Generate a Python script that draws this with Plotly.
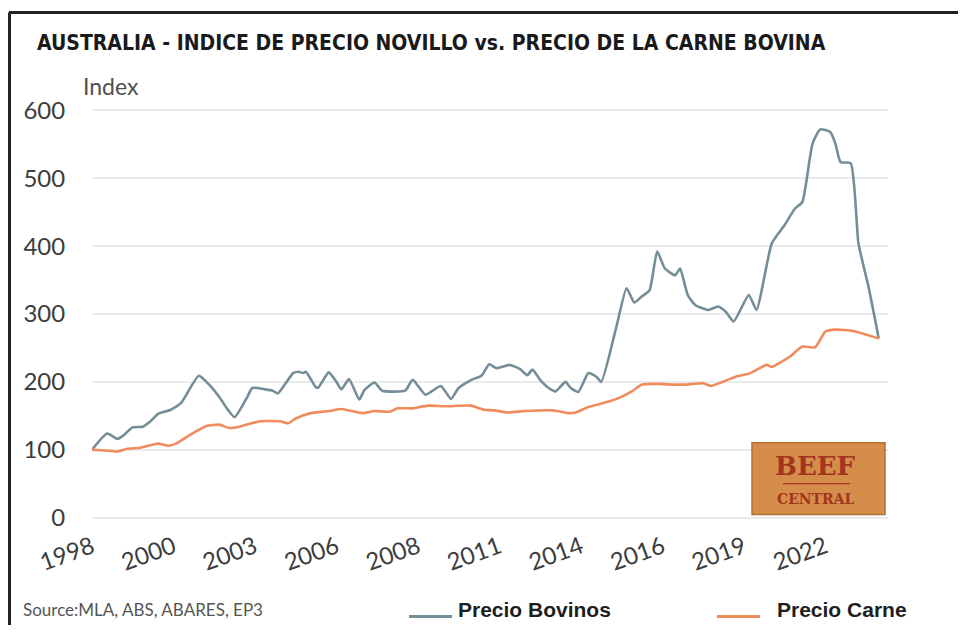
import plotly.graph_objects as go

# ---------------- data ----------------
bovinos_fechas = [
    "1998-01", "1998-07", "1998-11", "1999-01", "1999-05", "1999-09", "1999-12",
    "2000-03", "2000-08", "2000-12", "2001-07", "2001-11", "2002-03", "2002-06",
    "2002-09", "2003-02", "2003-04", "2003-09", "2003-12", "2004-02", "2004-08",
    "2004-10", "2004-12", "2005-01", "2005-05", "2005-06", "2005-10", "2006-01",
    "2006-03", "2006-06", "2006-10", "2006-12", "2007-04", "2007-07", "2008-04",
    "2008-07", "2008-12", "2009-06", "2009-10", "2010-01", "2010-06", "2010-10",
    "2011-01", "2011-04", "2011-09", "2012-01", "2012-04", "2012-06", "2012-09",
    "2012-12", "2013-03", "2013-07", "2013-09", "2013-12", "2014-04", "2014-07",
    "2014-09", "2015-03", "2015-07", "2015-10", "2016-01", "2016-04", "2016-07",
    "2016-10", "2017-02", "2017-04", "2017-07", "2017-10", "2018-03", "2018-07",
    "2018-10", "2019-01", "2019-07", "2019-10", "2020-04", "2020-09", "2021-01",
    "2021-04", "2021-08", "2021-11", "2022-03", "2022-05", "2022-07", "2022-11",
    "2023-02", "2023-06", "2023-10",
]
bovinos_valores = [
    100, 124, 116, 120, 133, 134, 142,
    153, 159, 169, 209, 196, 178, 161,
    148, 178, 191, 189, 187, 183, 213,
    215, 213, 215, 192, 192, 214, 200,
    189, 204, 174, 188, 199, 187, 187,
    203, 181, 194, 175, 191, 203, 209,
    226, 220, 225, 219, 210, 218, 203,
    192, 186, 200, 191, 185, 213, 208,
    200, 281, 338, 317, 326, 335, 392,
    367, 357, 367, 328, 313, 306, 311,
    303, 289, 328, 306, 404, 431, 455,
    465, 551, 572, 568, 551, 524, 522,
    404, 340, 264,
]

carne_fechas = [
    "1998-01", "1998-06", "1998-11", "1999-03", "1999-08", "2000-03", "2000-07",
    "2000-10", "2001-04", "2001-10", "2002-03", "2002-07", "2002-11", "2003-07",
    "2004-03", "2004-06", "2004-09", "2005-03", "2005-10", "2006-03", "2006-11",
    "2007-04", "2007-10", "2008-01", "2008-07", "2009-01", "2009-08", "2010-06",
    "2010-09", "2010-11", "2011-03", "2011-08", "2012-03", "2013-02", "2013-08",
    "2013-11", "2014-04", "2014-12", "2015-05", "2015-09", "2016-01", "2016-07",
    "2017-02", "2017-06", "2018-01", "2018-04", "2018-08", "2019-02", "2019-07",
    "2020-02", "2020-04", "2020-11", "2021-04", "2021-09", "2022-01", "2022-05",
    "2022-12", "2023-10",
]
carne_valores = [
    100, 99, 97.5, 101.5, 103, 109, 106,
    109, 123, 135, 137, 132, 134, 142,
    142, 139, 146, 154, 157, 160, 154,
    157, 156, 161, 161, 165, 164, 165,
    161, 159, 158, 155, 157, 158, 154,
    155, 163, 171, 178, 186, 196, 197,
    196, 196, 198, 194, 199, 208, 212,
    225, 222, 237, 252, 251, 274, 277,
    275, 264,
]

tick_fechas = ["1998-01-01", "2000-09-01", "2003-05-01", "2006-01-01", "2008-09-01",
               "2011-05-01", "2014-01-01", "2016-09-01", "2019-05-01", "2022-01-01"]
tick_textos = ["1998", "2000", "2003", "2006", "2008", "2011", "2014", "2016", "2019", "2022"]

y_ticks = [0, 100, 200, 300, 400, 500, 600]

series_nombres = ["Precio Bovinos", "Precio Carne"]
titulo = "AUSTRALIA - INDICE DE PRECIO NOVILLO vs. PRECIO DE LA CARNE BOVINA"
fuente = "Source:MLA, ABS, ABARES, EP3"

# ---------------- geometry helpers (page pixel coords -> paper) ----------------
OFF = 8                      # default body margin of the html page
W, H = 966 - 2 * OFF, 633 - 2 * OFF
L, R = 92 - OFF, 888 - OFF   # plot area in figure pixels
T, B = 108.6 - OFF, 519.4 - OFF


def px(x):
    return (x - OFF - L) / (R - L)


def py(y):
    return (B - (y - OFF)) / (B - T)


AZUL = "#748d97"
NARANJA = "#ef8b5c"
colores = [AZUL, NARANJA]

fig = go.Figure()
fig.add_trace(go.Scatter(
    x=bovinos_fechas, y=bovinos_valores, mode="lines", name=series_nombres[0],
    line=dict(color=AZUL, width=2.6, shape="spline", smoothing=0.5),
))
fig.add_trace(go.Scatter(
    x=carne_fechas, y=carne_valores, mode="lines", name=series_nombres[1],
    line=dict(color=NARANJA, width=2.6, shape="spline", smoothing=0.5),
))

fig.update_layout(
    width=W, height=H,
    margin=dict(l=L, r=W - R, t=T, b=H - B, pad=0, autoexpand=False),
    paper_bgcolor="white", plot_bgcolor="white",
    showlegend=False,
    xaxis=dict(
        type="date", range=["1998-01-01", "2024-01-20"],
        tickmode="array", tickvals=tick_fechas, ticktext=tick_textos,
        tickangle=-20, ticks="outside", ticklen=4, tickcolor="rgba(0,0,0,0)",
        showgrid=False, zeroline=False, showline=False, automargin=False,
        tickfont=dict(family="Lato, sans-serif", size=24, color="#3c3c3c"),
    ),
    yaxis=dict(
        range=[-2, 602], tickmode="array", tickvals=y_ticks,
        ticks="outside", ticklen=21, tickcolor="rgba(0,0,0,0)",
        showgrid=True, gridcolor="#ebebeb", gridwidth=2,
        zeroline=False, showline=False, automargin=False,
        tickfont=dict(family="Lato, sans-serif", size=24, color="#3c3c3c"),
    ),
)

# Title, axis caption, source
fig.add_annotation(text=titulo, xref="paper", yref="paper", x=px(35), y=py(42),
                   xanchor="left", yanchor="middle", showarrow=False,
                   font=dict(family="Liberation Sans Narrow, DejaVu Sans Condensed, sans-serif",
                             size=21, color="#1a1a1a", weight="bold"))
fig.add_annotation(text="Index", xref="paper", yref="paper", x=px(81), y=py(86),
                   xanchor="left", yanchor="middle", showarrow=False,
                   font=dict(family="Lato, sans-serif", size=23, color="#505050"))
fig.add_annotation(text=fuente, xref="paper", yref="paper", x=px(21), y=py(610),
                   xanchor="left", yanchor="middle", showarrow=False,
                   font=dict(family="Lato, sans-serif", size=17, color="#555555"))

# Legend (drawn below the chart)
leyenda_lineas = [(409, 452), (717, 760)]
leyenda_texto_x = [456, 775]
for nombre, color, (lx0, lx1), tx in zip(series_nombres, colores, leyenda_lineas, leyenda_texto_x):
    fig.add_shape(type="line", xref="paper", yref="paper", x0=px(lx0), x1=px(lx1),
                  y0=py(617), y1=py(617), line=dict(color=color, width=3))
    fig.add_annotation(text=nombre, xref="paper", yref="paper", x=px(tx), y=py(610),
                       xanchor="left", yanchor="middle", showarrow=False,
                       font=dict(family="Liberation Sans, Arial, sans-serif", size=21,
                                 color="#1e1e1e", weight="bold"))

# Frame lines (top and left)
fig.add_shape(type="line", xref="paper", yref="paper", x0=px(9), x1=px(966),
              y0=py(12), y1=py(12), line=dict(color="#222222", width=3))
fig.add_shape(type="line", xref="paper", yref="paper", x0=px(9.5), x1=px(9.5),
              y0=py(12), y1=py(633), line=dict(color="#222222", width=3))

# Beef Central badge
fig.add_shape(type="rect", xref="paper", yref="paper", x0=px(752), x1=px(885),
              y0=py(515), y1=py(443), fillcolor="#d48d4b",
              line=dict(color="#b46f35", width=1.5), layer="above")
fig.add_annotation(text="BEEF", xref="paper", yref="paper", x=px(815), y=py(466),
                   xanchor="center", yanchor="middle", showarrow=False,
                   font=dict(family="DejaVu Serif, serif", size=26, color="#a3341f",
                             weight="bold"))
fig.add_shape(type="line", xref="paper", yref="paper", x0=px(783), x1=px(850),
              y0=py(484), y1=py(484), line=dict(color="#a3341f", width=1.2),
              layer="above")
fig.add_annotation(text="CENTRAL", xref="paper", yref="paper", x=px(816), y=py(499),
                   xanchor="center", yanchor="middle", showarrow=False,
                   font=dict(family="DejaVu Serif, serif", size=14, color="#a3341f",
                             weight="bold"))

fig.write_html("out.html")
